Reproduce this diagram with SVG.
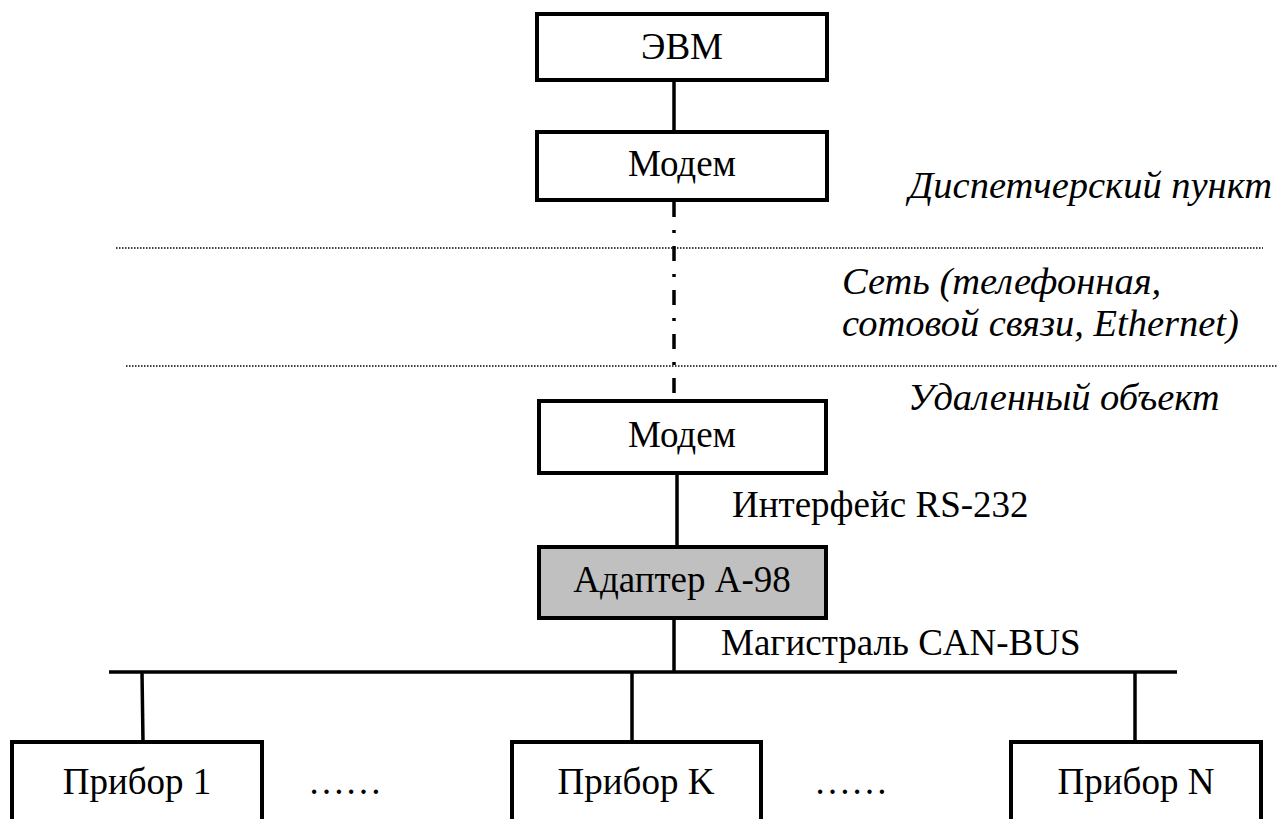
<svg xmlns="http://www.w3.org/2000/svg" width="1279" height="819" viewBox="0 0 1279 819">
<style>
.box{fill:#fff;stroke:#000;stroke-width:4}
.gray{fill:#c0c0c0}
.ln{stroke:#000;stroke-width:3.5;fill:none}
.dot{stroke:#000;stroke-width:1.5;stroke-dasharray:1.5 1.5;fill:none}
.t{font-family:"Liberation Serif","Times New Roman",serif;font-size:37px;fill:#000}
.c{text-anchor:middle}
.i{font-style:italic;font-size:38.5px}
</style>
<rect width="1279" height="819" fill="#fff"/>
<g id="connectors">
<line class="ln" x1="674" y1="80" x2="674" y2="132"/>
<line class="ln" x1="674" y1="200" x2="674" y2="400" stroke-dasharray="15 13 3 13" stroke-dashoffset="-2"/>
<line class="ln" x1="677" y1="473" x2="677" y2="547"/>
<line class="ln" x1="674" y1="618" x2="674" y2="672"/>
<line class="ln" x1="109" y1="672" x2="1177" y2="672"/>
<line class="ln" x1="142" y1="672" x2="143" y2="742"/>
<line class="ln" x1="632" y1="672" x2="632" y2="742"/>
<line class="ln" x1="1135" y1="672" x2="1135" y2="742"/>
</g>
<g id="separators">
<line class="dot" x1="116" y1="248" x2="1263" y2="248"/>
<line class="dot" x1="126" y1="366" x2="1277" y2="366"/>
</g>
<g id="evm"><rect class="box" x="537" y="14" width="290" height="66"/><text class="t c" x="682" y="59">ЭВМ</text></g>
<g id="modem1"><rect class="box" x="537" y="132" width="290" height="68"/><text class="t c" x="682" y="176">Модем</text></g>
<g id="modem2"><rect class="box" x="539" y="401" width="287" height="72"/><text class="t c" x="682" y="447">Модем</text></g>
<g id="adapter"><rect class="box gray" x="539" y="547" width="287" height="71"/><text class="t c" x="682" y="592">Адаптер А-98</text></g>
<g id="dev1"><rect class="box" x="12" y="742" width="250" height="100"/><text class="t c" x="137" y="794">Прибор 1</text></g>
<g id="devk"><rect class="box" x="512" y="742" width="249" height="100"/><text class="t c" x="636" y="794">Прибор K</text></g>
<g id="devn"><rect class="box" x="1011" y="742" width="250" height="100"/><text class="t c" x="1136" y="794">Прибор N</text></g>
<g id="labels">
<text class="t c" x="345" y="794">……</text>
<text class="t c" x="851" y="794">……</text>
<text class="t i" x="1272" y="198" text-anchor="end">Диспетчерский пункт</text>
<text class="t i" x="842" y="294">Сеть (телефонная,</text>
<text class="t i" x="842" y="336">сотовой связи, Ethernet)</text>
<text class="t i" x="908" y="410">Удаленный объект</text>
<text class="t" x="732" y="517">Интерфейс RS-232</text>
<text class="t" x="721" y="655">Магистраль CAN-BUS</text>
</g>
</svg>
